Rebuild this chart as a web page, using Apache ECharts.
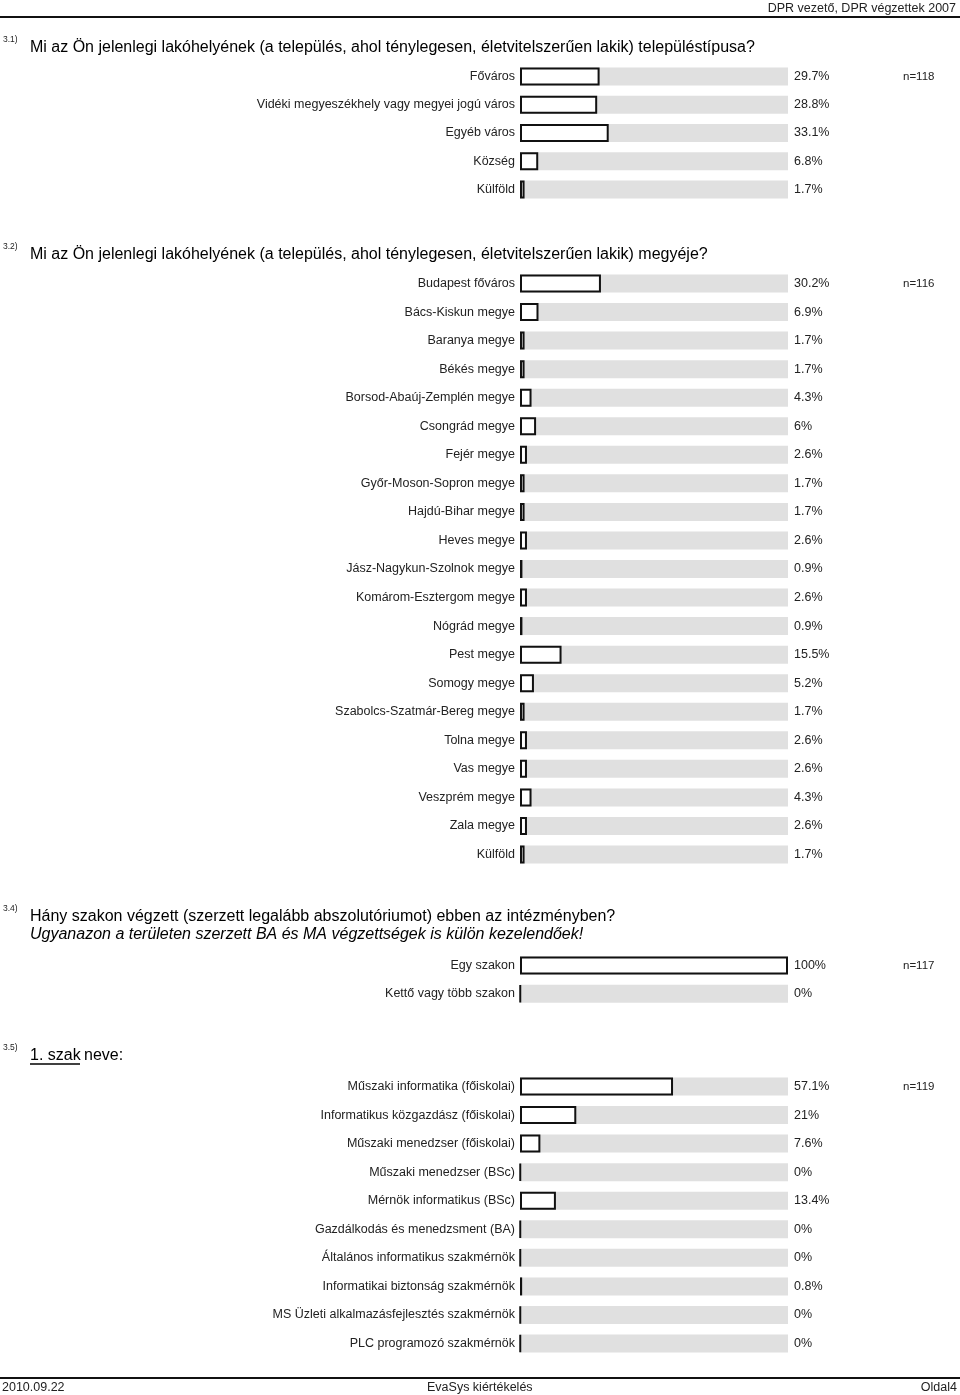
<!DOCTYPE html>
<html>
<head>
<meta charset="utf-8">
<script src="https://cdn.jsdelivr.net/npm/echarts@6/dist/echarts.min.js"></script>
<style>
html,body{margin:0;padding:0;background:#fff;}
#chart{width:960px;height:1395px;}
</style>
</head>
<body>
<div id="chart"></div>
<script>
// ---- Data ----
var cats1 = ['Főváros', 'Vidéki megyeszékhely vagy megyei jogú város', 'Egyéb város', 'Község', 'Külföld'];
var vals1 = [29.7, 28.8, 33.1, 6.8, 1.7];

var cats2 = ['Budapest főváros', 'Bács-Kiskun megye', 'Baranya megye', 'Békés megye', 'Borsod-Abaúj-Zemplén megye',
  'Csongrád megye', 'Fejér megye', 'Győr-Moson-Sopron megye', 'Hajdú-Bihar megye', 'Heves megye',
  'Jász-Nagykun-Szolnok megye', 'Komárom-Esztergom megye', 'Nógrád megye', 'Pest megye', 'Somogy megye',
  'Szabolcs-Szatmár-Bereg megye', 'Tolna megye', 'Vas megye', 'Veszprém megye', 'Zala megye', 'Külföld'];
var vals2 = [30.2, 6.9, 1.7, 1.7, 4.3, 6, 2.6, 1.7, 1.7, 2.6, 0.9, 2.6, 0.9, 15.5, 5.2, 1.7, 2.6, 2.6, 4.3, 2.6, 1.7];

var cats3 = ['Egy szakon', 'Kettő vagy több szakon'];
var vals3 = [100, 0];

var cats4 = ['Műszaki informatika (főiskolai)', 'Informatikus közgazdász (főiskolai)', 'Műszaki menedzser (főiskolai)',
  'Műszaki menedzser (BSc)', 'Mérnök informatikus (BSc)', 'Gazdálkodás és menedzsment (BA)',
  'Általános informatikus szakmérnök', 'Informatikai biztonság szakmérnök', 'MS Üzleti alkalmazásfejlesztés szakmérnök',
  'PLC programozó szakmérnök'];
var vals4 = [57.1, 21, 7.6, 0, 13.4, 0, 0, 0.8, 0, 0];

var nLabels = ['n=118', 'n=116', 'n=117', 'n=119'];
var qNums = ['3.1)', '3.2)', '3.4)', '3.5)'];
var qTitles = [
  'Mi az Ön jelenlegi lakóhelyének (a település, ahol ténylegesen, életvitelszerűen lakik) településtípusa?',
  'Mi az Ön jelenlegi lakóhelyének (a település, ahol ténylegesen, életvitelszerűen lakik) megyéje?',
  'Hány szakon végzett (szerzett legalább abszolutóriumot) ebben az intézményben?',
  'neve:'
];
var q4Sub = 'Ugyanazon a területen szerzett BA és MA végzettségek is külön kezelendőek!';
var q5Underlined = '1. szak';
var headerText = 'DPR vezető, DPR végzettek 2007';
var footerLeft = '2010.09.22', footerMid = 'EvaSys kiértékelés', footerRight = 'Oldal4';

// ---- Layout ----
var FONT = '"Liberation Sans", Arial, sans-serif';
var groups = [
  {cats: cats1, vals: vals1, first: 76.5, pitch: 28.25},
  {cats: cats2, vals: vals2, first: 283.5, pitch: 28.55},
  {cats: cats3, vals: vals3, first: 965.5, pitch: 28.2},
  {cats: cats4, vals: vals4, first: 1086.5, pitch: 28.56}
];
var titleY = [49, 256, 918, 1057];

var grids = [], xAxes = [], yAxes = [], series = [], graphics = [];
groups.forEach(function (g, i) {
  var n = g.cats.length;
  grids.push({left: 520, width: 268, top: g.first - g.pitch / 2, height: g.pitch * n});
  xAxes.push({type: 'value', gridIndex: i, min: 0, max: 100, show: false});
  yAxes.push({
    type: 'category', gridIndex: i, data: g.cats, inverse: true,
    axisLine: {show: false}, axisTick: {show: false}, splitLine: {show: false},
    axisLabel: {color: '#222', fontFamily: FONT, fontSize: 12.5, margin: 5}
  });
  series.push({
    type: 'bar', xAxisIndex: i, yAxisIndex: i, barWidth: 18, silent: true,
    data: g.vals.map(function () { return 100; }),
    itemStyle: {color: '#e0e0e0'},
    label: {
      show: true, position: 'right', distance: 6, color: '#222', fontFamily: FONT, fontSize: 12.5,
      formatter: function (p) { return g.vals[p.dataIndex] + '%'; }
    },
    z: 1
  });
  series.push({
    type: 'bar', xAxisIndex: i, yAxisIndex: i, barWidth: 18, barGap: '-100%', silent: true,
    data: g.vals, barMinHeight: 0.5,
    itemStyle: {color: '#fff', borderColor: '#111', borderWidth: 2},
    z: 2
  });
  graphics.push({type: 'text', left: 903, top: g.first - 6, style: {text: nLabels[i], fontFamily: FONT, fontSize: 11.5, fill: '#222'}});
  graphics.push({type: 'text', left: 3, top: titleY[i] - 14, style: {text: qNums[i], fontFamily: FONT, fontSize: 8.5, fill: '#222'}});
});

// titles
graphics.push({type: 'text', left: 30, top: titleY[0] - 9, style: {text: qTitles[0], fontFamily: FONT, fontSize: 16, fill: '#000'}});
graphics.push({type: 'text', left: 30, top: titleY[1] - 9, style: {text: qTitles[1], fontFamily: FONT, fontSize: 16, fill: '#000'}});
graphics.push({type: 'text', left: 30, top: titleY[2] - 9, style: {text: qTitles[2], fontFamily: FONT, fontSize: 16, fill: '#000'}});
graphics.push({type: 'text', left: 30, top: 927, style: {text: q4Sub, fontFamily: FONT, fontSize: 16, fontStyle: 'italic', fill: '#000'}});
graphics.push({type: 'text', left: 30, top: titleY[3] - 9, style: {text: q5Underlined, fontFamily: FONT, fontSize: 16, fill: '#000'}});
graphics.push({type: 'line', shape: {x1: 30, y1: 1064, x2: 80, y2: 1064}, style: {stroke: '#000', lineWidth: 1.5}});
graphics.push({type: 'text', left: 84, top: titleY[3] - 9, style: {text: qTitles[3], fontFamily: FONT, fontSize: 16, fill: '#000'}});

// header / footer
graphics.push({type: 'text', right: 4, top: 2, style: {text: headerText, fontFamily: FONT, fontSize: 12.5, fill: '#222'}});
graphics.push({type: 'rect', shape: {x: 0, y: 16, width: 960, height: 2}, style: {fill: '#111'}});
graphics.push({type: 'rect', shape: {x: 0, y: 1377, width: 960, height: 2}, style: {fill: '#111'}});
graphics.push({type: 'text', left: 2, top: 1381, style: {text: footerLeft, fontFamily: FONT, fontSize: 12.5, fill: '#222'}});
graphics.push({type: 'text', left: 427, top: 1381, style: {text: footerMid, fontFamily: FONT, fontSize: 12.5, fill: '#222'}});
graphics.push({type: 'text', right: 3, top: 1381, style: {text: footerRight, fontFamily: FONT, fontSize: 12.5, fill: '#222'}});

var chart = echarts.init(document.getElementById('chart'), null, {renderer: 'canvas'});
chart.setOption({
  animation: false,
  backgroundColor: '#fff',
  grid: grids, xAxis: xAxes, yAxis: yAxes, series: series, graphic: graphics
});
</script>
</body>
</html>
